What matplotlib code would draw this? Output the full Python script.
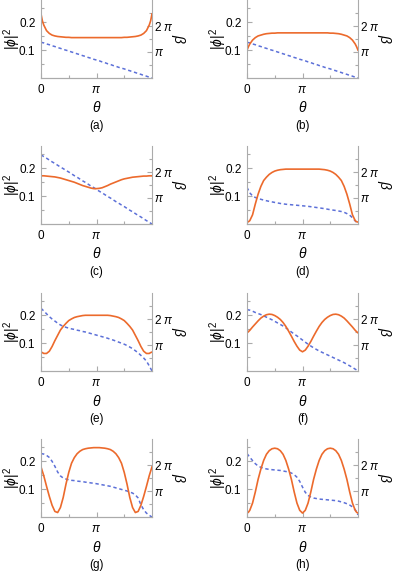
import matplotlib
matplotlib.use('Agg')
import matplotlib.pyplot as plt
import numpy as np

plt.rcParams['font.family'] = ['Liberation Sans', 'DejaVu Sans']
plt.rcParams['mathtext.fontset'] = 'custom'
plt.rcParams['mathtext.rm'] = 'Liberation Sans'
plt.rcParams['mathtext.it'] = 'Liberation Sans:italic'
plt.rcParams['mathtext.bf'] = 'Liberation Sans:bold'

# theta grid, in units of pi
theta_pi = [0, 0.025, 0.05, 0.1, 0.15, 0.2, 0.25, 0.3, 0.35, 0.4, 0.45,
            0.5, 0.55, 0.6, 0.65, 0.7, 0.75, 0.8, 0.85, 0.9, 0.95, 1.0,
            1.05, 1.1, 1.15, 1.2, 1.25, 1.3, 1.35, 1.4, 1.45, 1.5, 1.55,
            1.6, 1.65, 1.7, 1.75, 1.8, 1.85, 1.9, 1.95, 1.975, 2.0]

# |phi|^2 (left axis) and beta in units of pi (right axis)
phi_a = [0.23, 0.205, 0.19, 0.17, 0.16, 0.154, 0.151, 0.149, 0.148, 0.147, 0.146,
         0.146, 0.145, 0.145, 0.145, 0.145, 0.145, 0.145, 0.145, 0.145, 0.145, 0.145,
         0.145, 0.145, 0.145, 0.145, 0.145, 0.145, 0.145, 0.145, 0.145, 0.146, 0.146,
         0.147, 0.148, 0.149, 0.151, 0.154, 0.16, 0.17, 0.19, 0.205, 0.23]
beta_a = [1.38, 1.36, 1.35, 1.31, 1.28, 1.24, 1.21, 1.17, 1.14, 1.10, 1.07,
          1.04, 1.0, 0.97, 0.93, 0.90, 0.86, 0.83, 0.79, 0.76, 0.72, 0.69,
          0.66, 0.62, 0.59, 0.55, 0.52, 0.48, 0.45, 0.41, 0.38, 0.35, 0.31,
          0.28, 0.24, 0.21, 0.17, 0.14, 0.10, 0.07, 0.03, 0.02, 0.0]

phi_b = [0.10, 0.112, 0.122, 0.136, 0.145, 0.151, 0.154, 0.157, 0.159, 0.16, 0.161,
         0.161, 0.162, 0.162, 0.162, 0.162, 0.162, 0.162, 0.162, 0.162, 0.162, 0.162,
         0.162, 0.162, 0.162, 0.162, 0.162, 0.162, 0.162, 0.162, 0.162, 0.161, 0.161,
         0.16, 0.159, 0.157, 0.154, 0.151, 0.145, 0.136, 0.122, 0.112, 0.10]
beta_b = [1.38, 1.36, 1.35, 1.31, 1.28, 1.24, 1.21, 1.17, 1.14, 1.10, 1.07,
          1.04, 1.0, 0.97, 0.93, 0.90, 0.86, 0.83, 0.79, 0.76, 0.72, 0.69,
          0.66, 0.62, 0.59, 0.55, 0.52, 0.48, 0.45, 0.41, 0.38, 0.35, 0.31,
          0.28, 0.24, 0.21, 0.17, 0.14, 0.10, 0.07, 0.03, 0.02, 0.0]

phi_c = [0.173, 0.173, 0.173, 0.172, 0.171, 0.170, 0.169, 0.167, 0.165, 0.162, 0.159,
         0.156, 0.153, 0.150, 0.146, 0.142, 0.138, 0.135, 0.132, 0.129, 0.127, 0.127,
         0.128, 0.130, 0.134, 0.138, 0.143, 0.147, 0.151, 0.155, 0.159, 0.162, 0.164,
         0.166, 0.168, 0.169, 0.170, 0.171, 0.172, 0.172, 0.173, 0.173, 0.173]
beta_c = [2.66, 2.63, 2.59, 2.53, 2.46, 2.39, 2.33, 2.26, 2.19, 2.13, 2.06,
          2.0, 1.93, 1.86, 1.80, 1.73, 1.66, 1.60, 1.53, 1.46, 1.40, 1.33,
          1.26, 1.20, 1.13, 1.06, 1.0, 0.93, 0.86, 0.80, 0.73, 0.67, 0.60,
          0.53, 0.47, 0.40, 0.33, 0.27, 0.20, 0.13, 0.07, 0.03, 0.0]

phi_d = [0.007, 0.008, 0.012, 0.033, 0.072, 0.107, 0.135, 0.156, 0.168, 0.178, 0.185,
         0.19, 0.193, 0.195, 0.196, 0.197, 0.197, 0.197, 0.197, 0.197, 0.197, 0.197,
         0.197, 0.197, 0.197, 0.197, 0.197, 0.197, 0.196, 0.195, 0.193, 0.19, 0.185,
         0.178, 0.168, 0.156, 0.135, 0.107, 0.072, 0.033, 0.012, 0.008, 0.007]
beta_d = [1.41, 1.3, 1.2, 1.08, 1.02, 0.98, 0.95, 0.92, 0.895, 0.87, 0.85,
          0.83, 0.81, 0.79, 0.775, 0.76, 0.75, 0.74, 0.73, 0.72, 0.71, 0.70,
          0.69, 0.68, 0.665, 0.65, 0.635, 0.62, 0.605, 0.59, 0.57, 0.55, 0.535,
          0.52, 0.5, 0.48, 0.45, 0.40, 0.34, 0.24, 0.12, 0.06, 0.0]

phi_e = [0.068, 0.066, 0.063, 0.063, 0.071, 0.088, 0.109, 0.128, 0.147, 0.16, 0.171,
         0.181, 0.187, 0.192, 0.195, 0.197, 0.199, 0.2, 0.2, 0.2, 0.2, 0.2,
         0.2, 0.2, 0.2, 0.2, 0.199, 0.197, 0.195, 0.192, 0.187, 0.181, 0.171,
         0.16, 0.147, 0.128, 0.109, 0.088, 0.071, 0.063, 0.063, 0.066, 0.068]
beta_e = [2.41, 2.36, 2.31, 2.2, 2.09, 2.0, 1.92, 1.84, 1.77, 1.72, 1.68,
          1.65, 1.62, 1.6, 1.57, 1.55, 1.52, 1.5, 1.47, 1.44, 1.41, 1.38,
          1.35, 1.32, 1.29, 1.26, 1.22, 1.19, 1.15, 1.11, 1.07, 1.03, 0.98,
          0.92, 0.86, 0.78, 0.7, 0.6, 0.5, 0.38, 0.2, 0.1, 0.0]

phi_f = [0.137, 0.141, 0.146, 0.158, 0.169, 0.18, 0.19, 0.197, 0.202, 0.204, 0.203,
         0.199, 0.193, 0.185, 0.174, 0.16, 0.143, 0.125, 0.106, 0.089, 0.075, 0.069,
         0.075, 0.089, 0.106, 0.125, 0.143, 0.16, 0.174, 0.185, 0.193, 0.199, 0.203,
         0.204, 0.202, 0.197, 0.19, 0.18, 0.169, 0.158, 0.146, 0.141, 0.137]
beta_f = [2.37, 2.35, 2.34, 2.3, 2.25, 2.21, 2.17, 2.12, 2.07, 2.02, 1.97,
          1.91, 1.85, 1.79, 1.73, 1.66, 1.58, 1.5, 1.42, 1.35, 1.27, 1.19,
          1.11, 1.03, 0.96, 0.89, 0.83, 0.77, 0.72, 0.67, 0.62, 0.57, 0.52,
          0.47, 0.42, 0.37, 0.32, 0.26, 0.2, 0.14, 0.07, 0.04, 0.0]

phi_g = [0.18, 0.164, 0.148, 0.11, 0.074, 0.042, 0.02, 0.016, 0.034, 0.07, 0.118,
         0.16, 0.193, 0.213, 0.227, 0.236, 0.242, 0.245, 0.247, 0.248, 0.249, 0.249,
         0.249, 0.248, 0.247, 0.245, 0.242, 0.236, 0.227, 0.213, 0.193, 0.16, 0.118,
         0.07, 0.034, 0.016, 0.02, 0.042, 0.074, 0.11, 0.148, 0.164, 0.18]
beta_g = [2.44, 2.43, 2.42, 2.37, 2.29, 2.14, 1.95, 1.73, 1.58, 1.5, 1.46,
          1.43, 1.41, 1.40, 1.38, 1.37, 1.36, 1.34, 1.33, 1.31, 1.30, 1.28,
          1.26, 1.24, 1.22, 1.2, 1.18, 1.15, 1.12, 1.09, 1.06, 1.03, 1.0,
          0.96, 0.92, 0.85, 0.73, 0.47, 0.28, 0.15, 0.07, 0.03, 0.0]

phi_h = [0.014, 0.017, 0.024, 0.05, 0.09, 0.135, 0.172, 0.203, 0.225, 0.238, 0.245,
         0.247, 0.245, 0.238, 0.225, 0.203, 0.172, 0.135, 0.09, 0.05, 0.024, 0.014,
         0.024, 0.05, 0.09, 0.135, 0.172, 0.203, 0.225, 0.238, 0.245, 0.247, 0.245,
         0.238, 0.225, 0.203, 0.172, 0.135, 0.09, 0.05, 0.024, 0.017, 0.014]
beta_h = [2.44, 2.37, 2.3, 2.17, 2.05, 1.96, 1.91, 1.87, 1.85, 1.83, 1.82,
          1.81, 1.8, 1.79, 1.77, 1.75, 1.73, 1.69, 1.63, 1.53, 1.37, 1.15,
          0.95, 0.83, 0.77, 0.73, 0.71, 0.69, 0.68, 0.67, 0.66, 0.65, 0.64,
          0.63, 0.61, 0.58, 0.55, 0.51, 0.46, 0.39, 0.28, 0.2, 0.08]

panel_names = ['(a)', '(b)', '(c)', '(d)', '(e)', '(f)', '(g)', '(h)']
phi_series = [phi_a, phi_b, phi_c, phi_d, phi_e, phi_f, phi_g, phi_h]
beta_series = [beta_a, beta_b, beta_c, beta_d, beta_e, beta_f, beta_g, beta_h]

orange = '#EC6A2C'
blue = '#5C70D8'
gray = '#ababab'

W, H = 399, 575
col_x = [41, 247]
row_bottom = [78, 224, 371, 517]
ax_w, ax_h = 111, 78

fig = plt.figure(figsize=(W / 100, H / 100), dpi=100)
theta = np.array(theta_pi) * np.pi

for k in range(8):
    r, c = divmod(k, 2)
    ax = fig.add_axes([col_x[c] / W, 1 - row_bottom[r] / H, ax_w / W, ax_h / H])
    ax2 = ax.twinx()
    ax.set_zorder(ax2.get_zorder() + 1)
    ax.patch.set_visible(False)

    ax2.plot(theta, np.array(beta_series[k]) * np.pi, color=blue, lw=1.1,
             linestyle=(0, (2.2, 1.8)))
    ax.plot(theta, phi_series[k], color=orange, lw=1.2)

    ax.set_xlim(0, 2 * np.pi)
    ax.set_ylim(0, 0.28)
    ax2.set_ylim(0, 3 * np.pi)

    ax.set_xticks([0, np.pi])
    ax.set_xticklabels(['0', r'$\pi$'])
    ax.set_xticks([np.pi / 2, 3 * np.pi / 2], minor=True)
    ax.set_yticks([0.1, 0.2])
    ax.set_yticklabels(['0.1', '0.2'])
    ax.set_yticks([0.05, 0.15, 0.25], minor=True)
    ax2.set_yticks([np.pi, 2 * np.pi])
    ax2.set_yticklabels([r'$\pi$', r'2 $\pi$'])
    ax2.set_yticks([np.pi / 2, 3 * np.pi / 2, 5 * np.pi / 2], minor=True)

    for a in (ax, ax2):
        a.spines['top'].set_visible(False)
        for s in ('left', 'right', 'bottom'):
            a.spines[s].set_color(gray)
            a.spines[s].set_linewidth(0.8)
        a.tick_params(which='both', direction='in', color=gray, width=0.8)
        a.tick_params(which='major', length=3.5, labelsize=8.5)
        a.tick_params(which='minor', length=2)
    ax.spines['right'].set_visible(False)
    ax2.spines['left'].set_visible(False)
    ax.tick_params(axis='x', pad=4)
    ax.tick_params(axis='y', pad=4)
    ax2.tick_params(axis='y', pad=1.7)

    ax.annotate(r'$\theta$', xy=(0.5, 0), xycoords='axes fraction',
                xytext=(0, -21.6), textcoords='offset points',
                ha='center', va='center', fontsize=10)
    ax.annotate(panel_names[k], xy=(0.5, 0), xycoords='axes fraction',
                xytext=(0, -34.6), textcoords='offset points',
                ha='center', va='center', fontsize=8.5)
    ax.annotate(r'$|\phi|^{2}$', xy=(0, 0.5), xycoords='axes fraction',
                xytext=(-21, 0), textcoords='offset points',
                ha='center', va='center', rotation=90, fontsize=10)
    ax.annotate(r'$\beta$', xy=(1, 0.5), xycoords='axes fraction',
                xytext=(18.7, 0), textcoords='offset points',
                ha='center', va='center', rotation=270, fontsize=10)

fig.savefig('out.png', dpi=100)
